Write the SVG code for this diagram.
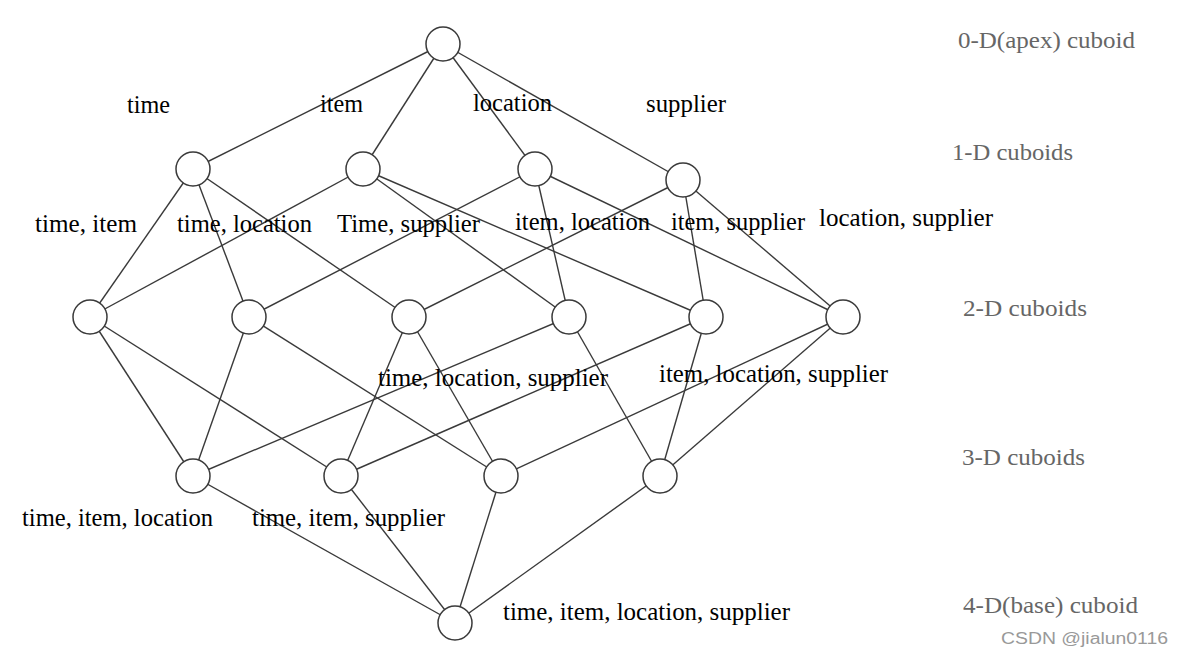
<svg xmlns="http://www.w3.org/2000/svg" width="1184" height="658" viewBox="0 0 1184 658">
<style>
.e{stroke:#3a3a3a;stroke-width:1.4;fill:none}
.n{fill:#fff;stroke:#3a3a3a;stroke-width:1.5}
.l{font-family:"Liberation Serif","Times New Roman",serif;font-size:25px;fill:#000}
.r{font-family:"Liberation Serif","Times New Roman",serif;font-size:23px;fill:#666}
.w{font-family:"Liberation Sans",Arial,sans-serif;font-size:16px;fill:#999}
</style>
<rect width="1184" height="658" fill="#fff"/>
<g id="connectors">
<line class="e" x1="443" y1="44" x2="193" y2="169"/>
<line class="e" x1="443" y1="44" x2="363" y2="169"/>
<line class="e" x1="443" y1="44" x2="535" y2="169"/>
<line class="e" x1="443" y1="44" x2="683" y2="180"/>
<line class="e" x1="193" y1="169" x2="90" y2="317"/>
<line class="e" x1="193" y1="169" x2="249" y2="317"/>
<line class="e" x1="193" y1="169" x2="409" y2="317"/>
<line class="e" x1="363" y1="169" x2="90" y2="317"/>
<line class="e" x1="363" y1="169" x2="569" y2="317"/>
<line class="e" x1="363" y1="169" x2="706" y2="317"/>
<line class="e" x1="535" y1="169" x2="249" y2="317"/>
<line class="e" x1="535" y1="169" x2="569" y2="317"/>
<line class="e" x1="535" y1="169" x2="843" y2="317"/>
<line class="e" x1="683" y1="180" x2="409" y2="317"/>
<line class="e" x1="683" y1="180" x2="706" y2="317"/>
<line class="e" x1="683" y1="180" x2="843" y2="317"/>
<line class="e" x1="90" y1="317" x2="193" y2="476"/>
<line class="e" x1="90" y1="317" x2="341" y2="476"/>
<line class="e" x1="249" y1="317" x2="193" y2="476"/>
<line class="e" x1="249" y1="317" x2="501" y2="476"/>
<line class="e" x1="409" y1="317" x2="341" y2="476"/>
<line class="e" x1="409" y1="317" x2="501" y2="476"/>
<line class="e" x1="569" y1="317" x2="193" y2="476"/>
<line class="e" x1="569" y1="317" x2="660" y2="476"/>
<line class="e" x1="706" y1="317" x2="341" y2="476"/>
<line class="e" x1="706" y1="317" x2="660" y2="476"/>
<line class="e" x1="843" y1="317" x2="501" y2="476"/>
<line class="e" x1="843" y1="317" x2="660" y2="476"/>
<line class="e" x1="193" y1="476" x2="455" y2="623"/>
<line class="e" x1="341" y1="476" x2="455" y2="623"/>
<line class="e" x1="501" y1="476" x2="455" y2="623"/>
<line class="e" x1="660" y1="476" x2="455" y2="623"/>
</g>
<g id="apex"><circle class="n" cx="443" cy="44" r="17"/></g>
<g id="time"><circle class="n" cx="193" cy="169" r="17"/><text class="l" x="127" y="113" textLength="43" lengthAdjust="spacingAndGlyphs">time</text></g>
<g id="item"><circle class="n" cx="363" cy="169" r="17"/><text class="l" x="320" y="112" textLength="43" lengthAdjust="spacingAndGlyphs">item</text></g>
<g id="location"><circle class="n" cx="535" cy="169" r="17"/><text class="l" x="473" y="111" textLength="79" lengthAdjust="spacingAndGlyphs">location</text></g>
<g id="supplier"><circle class="n" cx="683" cy="180" r="17"/><text class="l" x="646" y="112" textLength="80" lengthAdjust="spacingAndGlyphs">supplier</text></g>
<g id="time-item"><circle class="n" cx="90" cy="317" r="17"/><text class="l" x="35" y="232" textLength="102" lengthAdjust="spacingAndGlyphs">time, item</text></g>
<g id="time-location"><circle class="n" cx="249" cy="317" r="17"/><text class="l" x="177" y="232" textLength="135" lengthAdjust="spacingAndGlyphs">time, location</text></g>
<g id="time-supplier"><circle class="n" cx="409" cy="317" r="17"/><text class="l" x="337" y="232" textLength="143" lengthAdjust="spacingAndGlyphs">Time, supplier</text></g>
<g id="item-location"><circle class="n" cx="569" cy="317" r="17"/><text class="l" x="515" y="230" textLength="135" lengthAdjust="spacingAndGlyphs">item, location</text></g>
<g id="item-supplier"><circle class="n" cx="706" cy="317" r="17"/><text class="l" x="671" y="230" textLength="134" lengthAdjust="spacingAndGlyphs">item, supplier</text></g>
<g id="location-supplier"><circle class="n" cx="843" cy="317" r="17"/><text class="l" x="819" y="226" textLength="174" lengthAdjust="spacingAndGlyphs">location, supplier</text></g>
<g id="time-item-location"><circle class="n" cx="193" cy="476" r="17"/><text class="l" x="22" y="526" textLength="191" lengthAdjust="spacingAndGlyphs">time, item, location</text></g>
<g id="time-item-supplier"><circle class="n" cx="341" cy="476" r="17"/><text class="l" x="252" y="526" textLength="193" lengthAdjust="spacingAndGlyphs">time, item, supplier</text></g>
<g id="time-location-supplier"><circle class="n" cx="501" cy="476" r="17"/><text class="l" x="378" y="386" textLength="230" lengthAdjust="spacingAndGlyphs">time, location, supplier</text></g>
<g id="item-location-supplier"><circle class="n" cx="660" cy="476" r="17"/><text class="l" x="659" y="382" textLength="229" lengthAdjust="spacingAndGlyphs">item, location, supplier</text></g>
<g id="base"><circle class="n" cx="455" cy="623" r="17"/><text class="l" x="503" y="620" textLength="287" lengthAdjust="spacingAndGlyphs">time, item, location, supplier</text></g>
<g id="levels">
<text class="r" x="958" y="48" textLength="177" lengthAdjust="spacingAndGlyphs">0-D(apex) cuboid</text>
<text class="r" x="952" y="160" textLength="121" lengthAdjust="spacingAndGlyphs">1-D cuboids</text>
<text class="r" x="963" y="316" textLength="124" lengthAdjust="spacingAndGlyphs">2-D cuboids</text>
<text class="r" x="962" y="465" textLength="123" lengthAdjust="spacingAndGlyphs">3-D cuboids</text>
<text class="r" x="963" y="613" textLength="175" lengthAdjust="spacingAndGlyphs">4-D(base) cuboid</text>
</g>
<text class="w" x="1001" y="644" textLength="167" lengthAdjust="spacingAndGlyphs">CSDN @jialun0116</text>
</svg>
